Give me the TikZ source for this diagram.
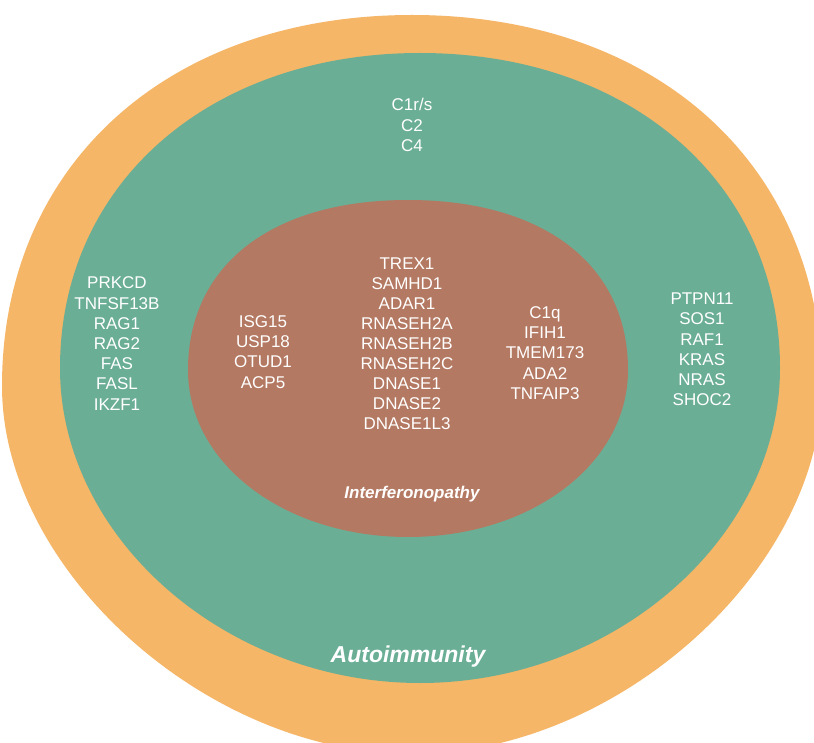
\documentclass[tikz,border=0pt]{standalone}
\usepackage{fontspec}
\setmainfont{Liberation Sans}
\definecolor{outerorange}{RGB}{245,182,103}
\definecolor{midgreen}{RGB}{107,174,150}
\definecolor{innerbrown}{RGB}{180,121,98}
\begin{document}
\begin{tikzpicture}[x=1pt,y=-1pt,
  gene/.style={text=white, font=\fontsize{17}{20.2}\selectfont, align=center, inner sep=0pt},
  ringlabel/.style={text=white, font=\bfseries\itshape, inner sep=0pt, anchor=base}]
\useasboundingbox (0,0) rectangle (814,743);
\clip (0,0) rectangle (814,743);
\fill[white] (0,0) rectangle (814,743);
% outer ring: cx 412, widest at y 386, top 15, bottom 754, rx 410
\fill[outerorange] (412,15)
  .. controls (656,15) and (822,165) .. (822,386)
  .. controls (822,570) and (617,754) .. (412,754)
  .. controls (207,754) and (2,570) .. (2,386)
  .. controls (2,165) and (168,15) .. (412,15) -- cycle;
% middle ring: cx 420, widest at y 368, top 53, bottom 683, rx 360
\fill[midgreen] (420,53)
  .. controls (631,53) and (780,184) .. (780,368)
  .. controls (780,538) and (614,683) .. (420,683)
  .. controls (226,683) and (60,538) .. (60,368)
  .. controls (60,184) and (209,53) .. (420,53) -- cycle;
% inner ring: cx 408, widest at y 370, top 200, bottom 537, rx 220
\fill[innerbrown] (408,200)
  .. controls (544,200) and (628,265) .. (628,370)
  .. controls (628,464) and (531,537) .. (408,537)
  .. controls (285,537) and (188,464) .. (188,370)
  .. controls (188,265) and (272,200) .. (408,200) -- cycle;

\node[gene] (top) at (412,125) {C1r/s\\C2\\C4};
\node[gene] (left) at (117,343.5) {PRKCD\\TNFSF13B\\RAG1\\RAG2\\FAS\\FASL\\IKZF1};
\node[gene] (right) at (702,349.5) {PTPN11\\SOS1\\RAF1\\KRAS\\NRAS\\SHOC2};
\node[gene] (inleft) at (263,352) {ISG15\\USP18\\OTUD1\\ACP5};
\node[gene, font=\fontsize{17}{20}\selectfont] (inmid) at (407,344) {TREX1\\SAMHD1\\ADAR1\\RNASEH2A\\RNASEH2B\\RNASEH2C\\DNASE1\\DNASE2\\DNASE1L3};
\node[gene] (inright) at (545,353) {C1q\\IFIH1\\TMEM173\\ADA2\\TNFAIP3};
\node[ringlabel, font=\fontsize{17}{20}\selectfont\bfseries\itshape] (ifn) at (412,498) {Interferonopathy};
\node[ringlabel, font=\fontsize{23}{26}\selectfont\bfseries\itshape] (auto) at (408,662) {Autoimmunity};
\end{tikzpicture}
\end{document}
